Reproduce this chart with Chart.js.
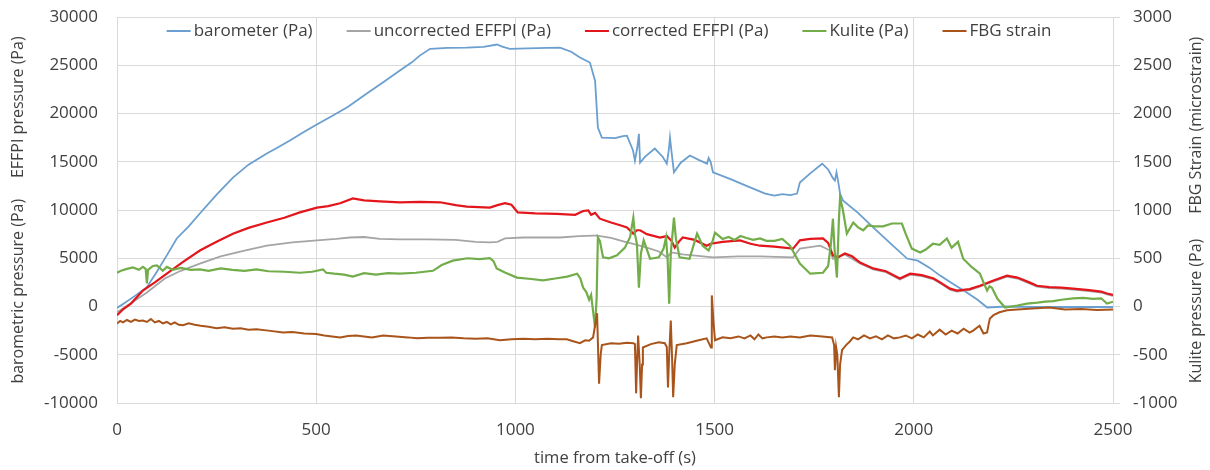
<!DOCTYPE html>
<html>
<head>
<meta charset="utf-8">
<script src="https://cdn.jsdelivr.net/npm/chart.js@4.4.1/dist/chart.umd.min.js"></script>
<style>
  html, body { margin: 0; padding: 0; background: #fff; }
  #wrap { width: 1210px; height: 470px; }
</style>
</head>
<body>
<div id="wrap"><canvas id="flightChart" width="1210" height="470"></canvas></div>
<script>
// time axis ticks (s)
const X_TICKS = [0, 500, 1000, 1500, 2000, 2500];

// barometer (Pa)
const baroT = [0, 20, 45, 75, 100, 125, 150, 180, 208, 250, 291, 330, 376, 400, 434, 470, 497, 542, 580, 627, 670, 710, 740, 760, 786, 830, 878, 920, 954, 965, 986, 1030, 1080, 1112, 1140, 1162, 1187, 1200, 1207, 1217, 1250, 1270, 1280, 1295, 1300, 1306, 1310, 1313, 1325, 1350, 1370, 1380, 1385, 1388, 1392, 1398, 1415, 1438, 1460, 1481, 1485, 1490, 1496, 1540, 1580, 1627, 1650, 1670, 1690, 1707, 1714, 1740, 1770, 1785, 1797, 1802, 1806, 1810, 1815, 1822, 1860, 1898, 1940, 1983, 2010, 2040, 2066, 2100, 2133, 2160, 2184, 2230, 2300, 2400, 2500];
const baroP = [-150, 400, 1100, 2000, 3600, 5300, 7050, 8300, 9640, 11600, 13360, 14700, 15850, 16400, 17200, 18100, 18750, 19800, 20700, 22070, 23300, 24450, 25300, 26000, 26700, 26800, 26830, 26900, 27150, 26950, 26700, 26750, 26800, 26830, 26400, 25800, 25280, 23400, 18550, 17500, 17450, 17650, 17700, 16200, 15100, 16500, 17900, 14900, 15500, 16370, 15500, 14800, 16200, 17500, 16000, 13900, 14900, 15650, 15200, 14800, 15400, 15000, 13900, 13200, 12500, 11700, 11500, 11650, 11550, 11700, 12850, 13800, 14800, 14200, 13300, 13050, 13900, 13000, 11700, 11000, 9700, 8200, 6600, 4970, 4750, 4000, 3200, 2300, 1450, 700, -100, 0, -50, -50, -50];

// uncorrected EFFPI (Pa)
const uncorT = [0, 30, 75, 120, 160, 208, 260, 320, 376, 440, 502, 550, 585, 620, 660, 710, 780, 850, 900, 936, 955, 974, 1020, 1112, 1160, 1195, 1205, 1240, 1280, 1296, 1330, 1360, 1380, 1392, 1420, 1446, 1496, 1560, 1614, 1697, 1714, 1765, 1790, 1797, 1827, 1865, 1898, 1930, 1965, 1991, 2020, 2050, 2070, 2091, 2108, 2140, 2166, 2200, 2234, 2260, 2290, 2309, 2340, 2370, 2400, 2440, 2470, 2485, 2500];
const uncorP = [-600, 200, 1450, 2900, 3700, 4450, 5200, 5800, 6300, 6650, 6850, 7000, 7150, 7200, 7000, 6950, 6950, 6900, 6700, 6650, 6700, 7050, 7150, 7150, 7300, 7350, 7350, 7100, 6650, 6500, 6100, 5700, 5100, 5600, 5400, 5300, 5100, 5200, 5200, 5100, 6000, 6300, 5800, 4950, 5400, 4450, 3850, 3550, 2800, 3300, 3150, 2800, 2300, 1750, 1550, 1700, 2050, 2600, 3100, 2900, 2400, 2050, 1900, 1850, 1750, 1600, 1450, 1250, 1100];

// corrected EFFPI (Pa)
const corT = [0, 15, 35, 65, 95, 125, 165, 208, 250, 291, 330, 376, 420, 459, 502, 530, 560, 592, 620, 660, 710, 760, 811, 850, 878, 936, 955, 974, 990, 1006, 1050, 1104, 1150, 1170, 1183, 1190, 1200, 1212, 1240, 1265, 1280, 1296, 1305, 1313, 1330, 1363, 1380, 1392, 1400, 1410, 1420, 1450, 1480, 1490, 1520, 1564, 1590, 1614, 1650, 1697, 1714, 1740, 1772, 1785, 1797, 1810, 1827, 1845, 1865, 1898, 1930, 1965, 1991, 2020, 2050, 2070, 2091, 2108, 2140, 2166, 2200, 2234, 2260, 2290, 2309, 2340, 2370, 2400, 2440, 2470, 2485, 2500];
const corP = [-900, -300, 300, 1650, 2500, 3400, 4600, 5800, 6700, 7550, 8150, 8700, 9200, 9750, 10250, 10400, 10700, 11200, 11000, 10900, 10800, 10850, 10800, 10500, 10350, 10250, 10500, 10700, 10550, 9750, 9650, 9600, 9500, 9900, 9950, 9500, 9700, 9100, 8700, 8400, 8200, 7550, 7900, 7900, 7500, 7150, 7300, 6800, 6100, 6700, 7150, 6900, 6300, 6500, 6700, 6850, 6500, 6300, 6200, 6000, 6850, 7000, 7050, 6600, 5300, 5100, 5500, 5200, 4550, 3950, 3650, 2900, 3400, 3250, 2900, 2400, 1850, 1650, 1800, 2150, 2700, 3200, 3000, 2500, 2150, 2000, 1950, 1850, 1700, 1550, 1350, 1200];

// Kulite (Pa), right axis
const kulT = [0, 10, 25, 40, 55, 65, 72, 75, 78, 90, 100, 115, 125, 140, 160, 185, 208, 230, 260, 290, 320, 350, 380, 420, 459, 490, 517, 525, 545, 570, 592, 620, 650, 680, 710, 750, 793, 815, 843, 880, 910, 936, 945, 953, 975, 1004, 1040, 1069, 1100, 1130, 1155, 1163, 1170, 1178, 1185, 1190, 1195, 1200, 1204, 1207, 1212, 1220, 1235, 1255, 1275, 1288, 1296, 1300, 1305, 1310, 1315, 1322, 1338, 1360, 1372, 1378, 1382, 1386, 1390, 1398, 1403, 1412, 1437, 1456, 1470, 1485, 1495, 1501, 1520, 1535, 1550, 1565, 1580, 1597, 1614, 1630, 1650, 1670, 1689, 1700, 1714, 1740, 1772, 1785, 1792, 1797, 1801, 1807, 1812, 1815, 1822, 1832, 1848, 1860, 1873, 1885, 1900, 1923, 1945, 1970, 1980, 1995, 2016, 2030, 2048, 2065, 2083, 2095, 2111, 2124, 2145, 2166, 2175, 2184, 2190, 2196, 2210, 2229, 2260, 2284, 2310, 2330, 2350, 2370, 2400, 2425, 2450, 2470, 2485, 2500];
const kulP = [350, 370, 390, 405, 380, 410, 390, 240, 380, 420, 425, 370, 410, 380, 400, 380, 385, 370, 395, 380, 370, 385, 365, 360, 350, 360, 385, 350, 340, 330, 310, 345, 330, 345, 340, 350, 370, 430, 475, 500, 490, 500, 470, 395, 350, 300, 285, 270, 290, 310, 340, 290, 195, 150, 70, 120, -50, -220, 100, 715, 680, 510, 500, 530, 610, 720, 920, 750, 650, 195, 550, 685, 495, 510, 600, 715, 500, 30, 550, 920, 700, 510, 495, 755, 630, 580, 680, 765, 700, 720, 690, 730, 710, 690, 705, 680, 680, 700, 630, 550, 445, 340, 350, 420, 650, 910, 600, 300, 900, 1130, 1000, 755, 870, 820, 790, 840, 830, 830, 860, 860, 750, 600, 560, 590, 650, 640, 705, 610, 670, 495, 410, 340, 250, 165, 210, 195, 80, -10, 10, 30, 40, 50, 55, 70, 85, 90, 80, 85, 30, 50];

// FBG strain (microstrain), right axis
const fbgT = [0, 8, 15, 25, 35, 45, 55, 65, 75, 85, 95, 105, 115, 125, 135, 145, 155, 166, 180, 195, 210, 230, 250, 270, 291, 310, 330, 350, 380, 417, 440, 470, 500, 520, 540, 560, 580, 600, 620, 640, 668, 700, 730, 753, 780, 810, 840, 870, 900, 930, 961, 990, 1020, 1050, 1080, 1110, 1129, 1145, 1162, 1175, 1185, 1195, 1205, 1210, 1214, 1217, 1240, 1260, 1280, 1296, 1300, 1303, 1306, 1308, 1312, 1315, 1318, 1320, 1340, 1360, 1375, 1380, 1383, 1386, 1390, 1393, 1396, 1400, 1405, 1430, 1460, 1480, 1488, 1491, 1493, 1497, 1501, 1520, 1540, 1560, 1575, 1590, 1600, 1610, 1620, 1631, 1650, 1670, 1690, 1714, 1740, 1770, 1795, 1800, 1802, 1805, 1808, 1812, 1815, 1820, 1830, 1840, 1848, 1860, 1875, 1890, 1905, 1920, 1935, 1950, 1965, 1980, 1995, 2010, 2025, 2040, 2048, 2065, 2080, 2095, 2110, 2125, 2140, 2149, 2165, 2175, 2184, 2188, 2191, 2200, 2215, 2234, 2260, 2299, 2340, 2380, 2420, 2460, 2500];
const fbgS = [-175, -150, -165, -140, -160, -135, -150, -145, -160, -130, -165, -150, -175, -160, -185, -165, -190, -195, -175, -190, -200, -210, -225, -215, -230, -225, -240, -235, -250, -270, -265, -280, -285, -300, -310, -320, -305, -300, -310, -320, -300, -310, -320, -330, -325, -325, -320, -330, -335, -330, -350, -340, -335, -340, -335, -340, -340, -360, -380, -350, -355, -320, -70, -800, -500, -400, -380, -385, -375, -380, -390, -900, -500, -300, -600, -950, -600, -425, -390, -370, -380, -420, -840, -500, -145, -500, -940, -600, -400, -380, -350, -330, -400, -425, 115, -150, -350, -320, -330, -310, -330, -300, -340, -290, -330, -320, -310, -320, -310, -320, -300, -310, -320, -400, -660, -420, -500, -940, -600, -450, -400, -360, -320, -340, -300, -330, -310, -340, -300, -330, -320, -300, -330, -290, -320, -260, -300, -240, -290, -250, -280, -230, -270, -250, -200, -280, -270, -180, -125, -90, -60, -40, -30, -20, -10, -30, -25, -35, -30];

function pairs(xs, ys) {
    return xs.map((x, i) => ({ x: x, y: ys[i] }));
}

const FONT = "'Open Sans', 'DejaVu Sans', sans-serif";
const TEXT_COLOR = '#404040';
const GRID_COLOR = '#d9d9d9';

// right axis title reads bottom-to-top like the left one
const rightTitle = {
    id: 'rightTitle',
    afterDraw(chart) {
        const ctx = chart.ctx;
        ctx.save();
        ctx.translate(1196, 210);
        ctx.rotate(-Math.PI / 2);
        ctx.font = "16px " + FONT;
        ctx.fillStyle = TEXT_COLOR;
        ctx.textAlign = 'center';
        ctx.textBaseline = 'middle';
        ctx.fillText('Kulite pressure (Pa)      FBG Strain (microstrain)', 0, 0);
        ctx.restore();
    }
};

// one-row legend sitting inside the top of the plot, like Excel's
const insideLegend = {
    id: 'insideLegend',
    afterDatasetsDraw(chart) {
        const ctx = chart.ctx;
        const area = chart.chartArea;
        const lineLen = 24, gap = 3, spacing = 34;
        ctx.save();
        ctx.font = "17px " + FONT;
        const items = chart.data.datasets.map(d => ({ d: d, w: ctx.measureText(d.label).width }));
        let total = items.reduce((s, it) => s + lineLen + gap + it.w, 0) + spacing * (items.length - 1);
        let x = (area.left + area.right) / 2 - total / 2 - 6;
        const y = area.top + 14;
        items.forEach(it => {
            ctx.strokeStyle = it.d.borderColor;
            ctx.lineWidth = 2;
            ctx.beginPath();
            ctx.moveTo(x, y);
            ctx.lineTo(x + lineLen, y);
            ctx.stroke();
            ctx.fillStyle = TEXT_COLOR;
            ctx.textAlign = 'left';
            ctx.textBaseline = 'middle';
            ctx.fillText(it.d.label, x + lineLen + gap, y);
            x += lineLen + gap + it.w + spacing;
        });
        ctx.restore();
    }
};

function makeDataset(label, data, color, width, axis) {
    return {
        label: label,
        data: data,
        borderColor: color,
        backgroundColor: color,
        borderWidth: width,
        pointRadius: 0,
        tension: 0,
        fill: false,
        yAxisID: axis
    };
}

const datasets = [
    makeDataset('barometer (Pa)', pairs(baroT, baroP), '#6a9fcf', 1.8, 'y'),
    makeDataset('uncorrected EFFPI (Pa)', pairs(uncorT, uncorP), '#a5a5a5', 1.8, 'y'),
    makeDataset('corrected EFFPI (Pa)', pairs(corT, corP), '#e3161c', 2.2, 'y'),
    makeDataset('Kulite (Pa)', pairs(kulT, kulP), '#72ad4a', 2.2, 'y1'),
    makeDataset('FBG strain', pairs(fbgT, fbgS), '#a9541a', 2, 'y1')
];
// Excel draws later series on top
datasets.forEach((d, i) => { d.order = datasets.length - i; });

const plainTicks = v => String(v);

// pin the plot box to the reference's pixel frame
function fixY(width) {
    return axis => {
        axis.width = width;
        axis.paddingTop = 0;
        axis.paddingBottom = 0;
    };
}

new Chart(document.getElementById('flightChart').getContext('2d'), {
    type: 'line',
    data: { datasets: datasets },
    options: {
        responsive: false,
        animation: false,
        layout: { padding: { top: 17, left: 0, right: 0, bottom: 0 } },
        plugins: {
            tooltip: { enabled: false },
            legend: { display: false }
        },
        scales: {
            x: {
                type: 'linear',
                min: 0,
                max: 2500,
                afterBuildTicks: axis => { axis.ticks = X_TICKS.map(v => ({ value: v })); },
                afterFit: axis => { axis.height = 67; axis.paddingLeft = 0; axis.paddingRight = 0; },
                grid: { color: GRID_COLOR, drawTicks: false },
                border: { color: GRID_COLOR },
                ticks: { color: TEXT_COLOR, padding: 17, font: { family: FONT, size: 17 }, callback: plainTicks },
                title: {
                    display: true,
                    text: 'time from take-off (s)',
                    color: TEXT_COLOR,
                    font: { family: FONT, size: 16.5 },
                    padding: { top: 0, bottom: 2 }
                }
            },
            y: {
                position: 'left',
                min: -10000,
                max: 30000,
                afterFit: fixY(117),
                grid: { color: GRID_COLOR, drawTicks: false },
                border: { color: GRID_COLOR },
                ticks: { stepSize: 5000, color: TEXT_COLOR, padding: 19, font: { family: FONT, size: 17 }, callback: plainTicks },
                title: {
                    display: true,
                    text: 'barometric pressure (Pa)     EFFPI pressure (Pa)',
                    color: TEXT_COLOR,
                    font: { family: FONT, size: 16 },
                    padding: { top: 9, bottom: 0 }
                }
            },
            y1: {
                position: 'right',
                min: -1000,
                max: 3000,
                afterFit: fixY(97),
                grid: { drawOnChartArea: false, color: GRID_COLOR, tickLength: 7 },
                border: { color: GRID_COLOR },
                ticks: { stepSize: 500, color: TEXT_COLOR, padding: 13, font: { family: FONT, size: 17 }, callback: plainTicks }
            }
        }
    },
    plugins: [rightTitle, insideLegend]
});
</script>
</body>
</html>
